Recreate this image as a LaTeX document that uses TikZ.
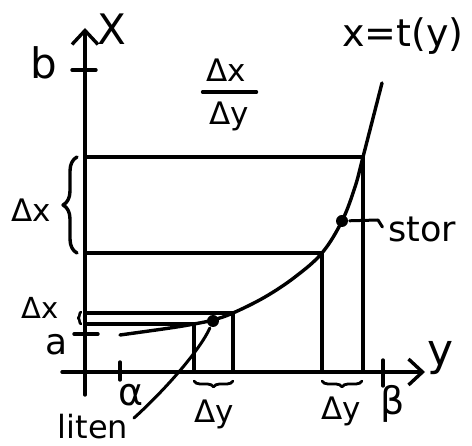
\documentclass[tikz,border=0pt]{standalone}
\usepackage{fontspec}
\setmainfont{DejaVu Sans}
\usetikzlibrary{arrows.meta,decorations.pathreplacing,calc}

\begin{document}
\begin{tikzpicture}[
    x=1pt, y=-1pt,
    line width=3.4pt, line cap=round, line join=round,
    lbl/.style={inner sep=0pt, font=\fontsize{#1}{#1}\selectfont},
    lbl/.default=31,
    axis/.style={-{Straight Barb[length=14pt,width=26pt,line width=3.4pt]}},
    tick/.style={line width=3.4pt},
    dot/.style={circle, fill=black, inner sep=0pt, minimum size=12pt},
    brc/.style={decorate, decoration={brace, amplitude=#1}},
    pointer/.style={line width=3pt}
]
\useasboundingbox (0,0) rectangle (472,446);

% axes
\coordinate (ybot) at (85,395);
\coordinate (ytop) at (85,28);
\coordinate (xleft) at (62,372);
\coordinate (xright) at (425,372);
\draw[axis] (ybot) -- (ytop);
\draw[axis] (xleft) -- (xright);
\node[lbl=42] (xlab) at (112,29) {X};
\node[lbl=44] (ylab) at (441,358) {y};

% ticks
\draw[tick] (72,70) -- (96,70);
\node[lbl=42] (b) at (44,63) {b};
\draw[tick] (74,334) -- (98,334);
\node[lbl=36] (a) at (57,345) {a};
\draw[tick] (120,362) -- (120,380);
\node[lbl=38] (alpha) at (131,395) {α};
\draw[tick] (383,360) -- (383,386);
\node[lbl=38] (beta) at (393,404) {β};

% curve x = t(y)
\coordinate (c0) at (120,335);
\coordinate (c1) at (194,324);
\coordinate (c2) at (233,313);
\coordinate (c3) at (322,253);
\coordinate (c4) at (363,157);
\coordinate (c5) at (382,83);
\draw plot[smooth, tension=0.6] coordinates {(c0) (170,328) (c1) (213,320) (c2) (265,297) (295,277) (c3) (342,221) (355,187) (c4) (c5)};
\node[lbl=38] (eq) at (403,36) {x=t(y)};

% rectangles
\draw (85,157) -- (c4) -- (c4 |- xleft);
\draw (85,253) -- (c3) -- (c3 |- xleft);
\draw (85,313) -- (c2) -- (c2 |- xleft);
\draw (85,324) -- (c1) -- (c1 |- xleft);

% quotient
\node[lbl] (dxq) at (226,70) {Δx};
\node[lbl] (dyq) at (229,116) {Δy};
\draw (dxq.south west) ++(-2,9) coordinate (qa) -- ($(qa)+(54,0)$);

% braces
\draw[brc=14pt] (77,253) -- (77,157);
\node[lbl] (dxbig) at (31,210) {Δx};
\draw[brc=3pt, line width=2.6pt] (81,324) -- (81,312);
\node[lbl=29] (dxsmall) at (40,308) {Δx};
\draw[brc=6pt, line width=2.8pt] (233,381) -- (194,381);
\node[lbl] (dysmall) at (214,414) {Δy};
\draw[brc=6pt, line width=2.8pt] (362,381) -- (322,381);
\node[lbl] (dybig) at (341,411) {Δy};

% small and large slope
\node[dot] (liten dot) at (213,321) {};
\node[lbl=32] (liten) at (93,427) {liten};
\draw[pointer] (134,418) coordinate (lt) .. controls (165,390) and (200,350) .. (liten dot);
\node[dot] (stor dot) at (342,221) {};
\node[lbl=35] (stor) at (422,229) {stor};
\draw[pointer] (stor dot) -- (378,220) -- ($(stor.west)+(-4,-2)$);
\end{tikzpicture}
\end{document}
